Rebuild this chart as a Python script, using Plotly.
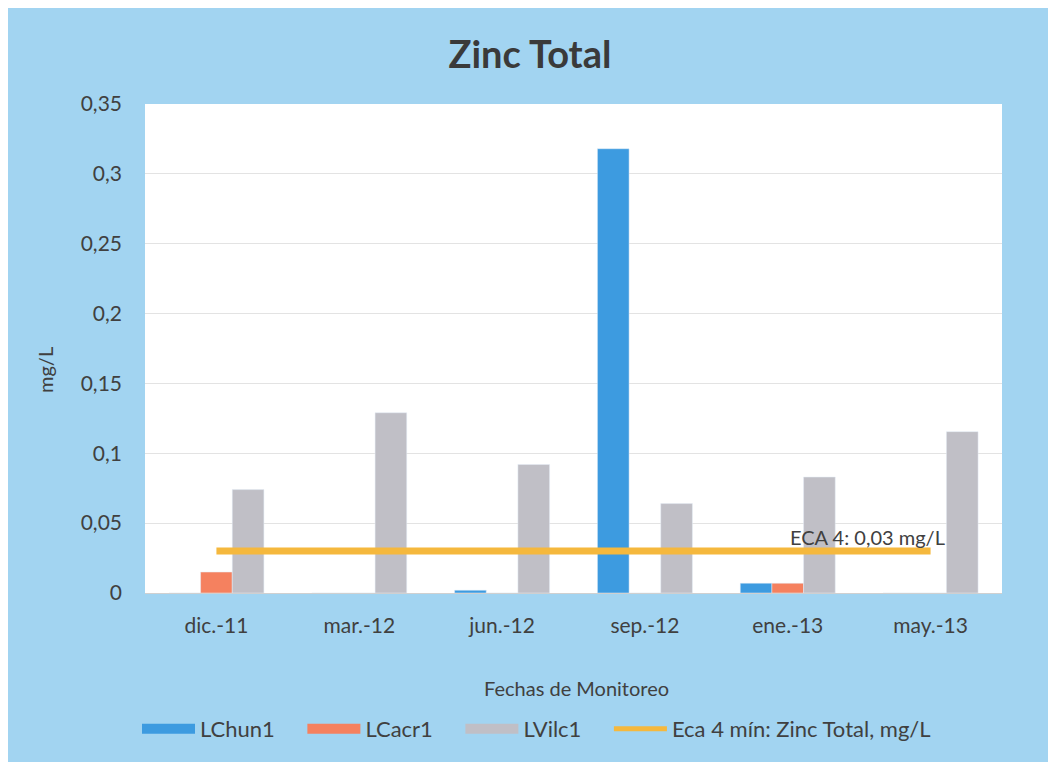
import plotly.graph_objects as go

categories = ["dic.-11", "mar.-12", "jun.-12", "sep.-12", "ene.-13", "may.-13"]
lchun1 = [0.0, 0.0, 0.002, 0.318, 0.007, 0.0]
lcacr1 = [0.015, 0.0, 0.0, 0.0, 0.007, 0.0]
lvilc1 = [0.074, 0.129, 0.092, 0.064, 0.083, 0.1155]
eca4 = [0.03, 0.03, 0.03, 0.03, 0.03, 0.03]

series_names = ["LChun1", "LCacr1", "LVilc1"]
series_colors = ["#3d9be0", "#f5815f", "#c0bfc6"]
eca_name = "Eca 4 mín: Zinc Total, mg/L"

y_tickvals = [0, 0.05, 0.1, 0.15, 0.2, 0.25, 0.3, 0.35]
y_ticktext = ["0", "0,05", "0,1", "0,15", "0,2", "0,25", "0,3", "0,35"]

FONT = "Lato, Open Sans, sans-serif"
TXT = "#404040"
OFF = 8  # page body margin
W, H = 1056, 762
L, R, T, B = 145 - OFF, 1056 - (1002 - OFF), 104 - OFF, 762 - (593 - OFF)
PAD = "\u00a0" * 4

fig = go.Figure()
for name, vals, col in zip(series_names, [lchun1, lcacr1, lvilc1], series_colors):
    fig.add_trace(go.Bar(x=categories, y=vals, name=name, marker_color=col,
                         showlegend=False, legendgroup=name))
fig.add_trace(go.Scatter(x=categories, y=eca4, name=eca_name, mode="lines",
                         line=dict(color="#f5b83d", width=7), showlegend=False,
                         legendgroup="eca"))
# legend entries with wide rectangular swatches
for name, col in zip(series_names, series_colors):
    fig.add_trace(go.Scatter(x=[None], y=[None], name=name + PAD, mode="lines",
                             line=dict(color=col, width=11), legendgroup=name))
fig.add_trace(go.Scatter(x=[None], y=[None], name=eca_name, mode="lines",
                         line=dict(color="#f5b83d", width=5), legendgroup="eca"))

pw = W - L - R
ph = H - T - B


def px_x(p):
    return (p - OFF - L) / pw


def px_y(p):
    return (H - B - (p - OFF)) / ph


fig.update_layout(
    width=W, height=H,
    margin=dict(l=L, r=R, t=T, b=B),
    paper_bgcolor="#a2d4f1",
    plot_bgcolor="white",
    separators=", ",
    barmode="group",
    bargap=0.335,
    bargroupgap=0,
    font=dict(family=FONT, color=TXT, size=20),
    title=dict(text="<b>Zinc Total</b>", x=(530 - OFF) / W, xref="container", xanchor="center",
               y=1 - (55 - OFF) / H, yref="container", yanchor="middle",
               font=dict(size=38, color="#3a3a3a", family=FONT)),
    showlegend=True,
    legend=dict(orientation="h", x=px_x(137), xanchor="left", y=px_y(729), yanchor="middle",
                bgcolor="rgba(0,0,0,0)", font=dict(size=22, color=TXT), itemwidth=53,
                traceorder="normal"),
    xaxis=dict(showgrid=False, showline=True, linecolor="#d0d0d0", linewidth=1,
               ticks="", ticklabelstandoff=14, tickfont=dict(size=21, color=TXT)),
    yaxis=dict(range=[0, 0.35], tickvals=y_tickvals, ticktext=y_ticktext,
               showgrid=True, gridcolor="#e3e3e3", gridwidth=1, zeroline=False,
               ticks="", ticklabelstandoff=22, tickfont=dict(size=21, color=TXT)),
    annotations=[
        dict(text="Fechas de Monitoreo", xref="paper", yref="paper", x=px_x(576), y=px_y(688),
             xanchor="center", yanchor="middle", showarrow=False, font=dict(size=20, color=TXT)),
        dict(text="mg/L", xref="paper", yref="paper", x=px_x(45), y=px_y(370), textangle=-90,
             xanchor="center", yanchor="middle", showarrow=False, font=dict(size=20, color=TXT)),
        dict(text="ECA 4: 0,03 mg/L", x="may.-13", y=0.03, xref="x", yref="y",
             xanchor="right", yanchor="bottom", xshift=16, yshift=0, showarrow=False,
             font=dict(size=20, color=TXT)),
    ],
)

fig.write_html("out.html", default_width="1056px", default_height="762px")
